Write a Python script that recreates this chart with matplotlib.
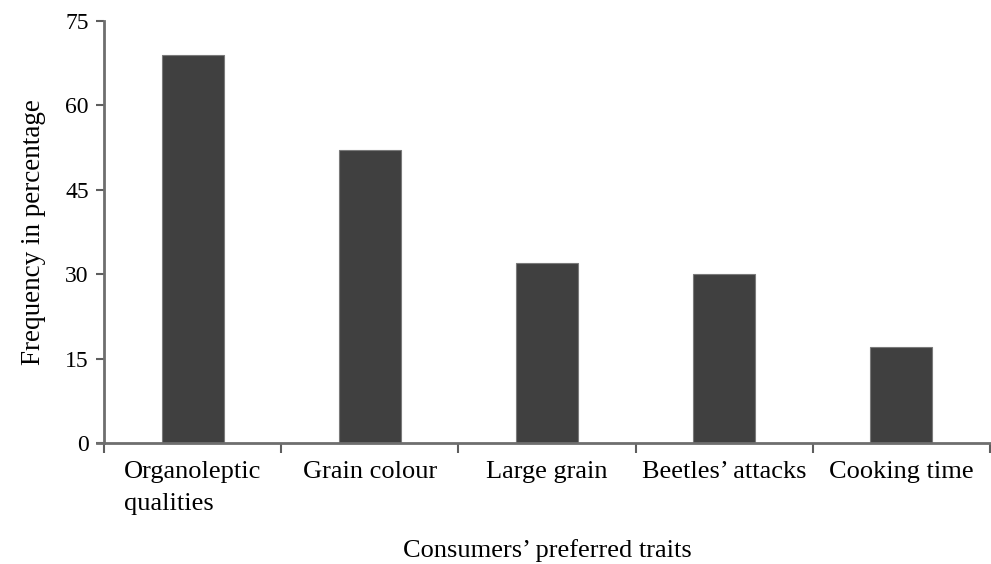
import matplotlib
matplotlib.use("Agg")
import matplotlib.pyplot as plt
import numpy as np

categories = ["Organoleptic\nqualities", "Grain colour", "Large grain", "Beetles\u2019 attacks", "Cooking time"]
values = [69, 52, 32, 30, 17]
yticks = [0, 15, 30, 45, 60, 75]

plt.rcParams['font.family'] = ['Liberation Serif', 'DejaVu Serif']

fig = plt.figure(figsize=(9.91, 5.64), dpi=100)
ax = fig.add_axes([104/991, 1-443/564, 1-104/991 - 0.001, (443-21)/564])

x = np.arange(len(categories))
ax.bar(x, values, width=0.35, color='#404040', edgecolor='#7a7a7a', linewidth=0.8, zorder=2)

ax.set_xlim(-0.5, len(categories) - 0.5)
ax.set_ylim(0, 75)
ax.set_yticks(yticks)
ax.set_yticklabels([str(t) for t in yticks], fontsize=17)
ax.set_xticks(x)
ax.set_xticklabels(categories, fontsize=19, multialignment='left', linespacing=1.6)
ax.set_xticks(np.arange(len(categories) + 1) - 0.5, minor=True)
ax.tick_params(axis='x', which='major', length=0, pad=13)
ax.tick_params(axis='x', which='minor', length=7, width=1.5, color='#5e5e5e', direction='out')
ax.tick_params(axis='y', which='major', length=6, width=1.5, color='#5e5e5e', pad=5)

for s in ['top', 'right']:
    ax.spines[s].set_visible(False)
for s in ['left', 'bottom']:
    ax.spines[s].set_color('#6e6e6e')
    ax.spines[s].set_linewidth(2)
ax.spines['bottom'].set_bounds(-0.54, len(categories) - 0.5)

ax.set_ylabel("Frequency in percentage", fontsize=19.5, labelpad=14)
ax.set_xlabel("Consumers\u2019 preferred traits", fontsize=19, labelpad=17)

fig.savefig("out.png", dpi=100)
